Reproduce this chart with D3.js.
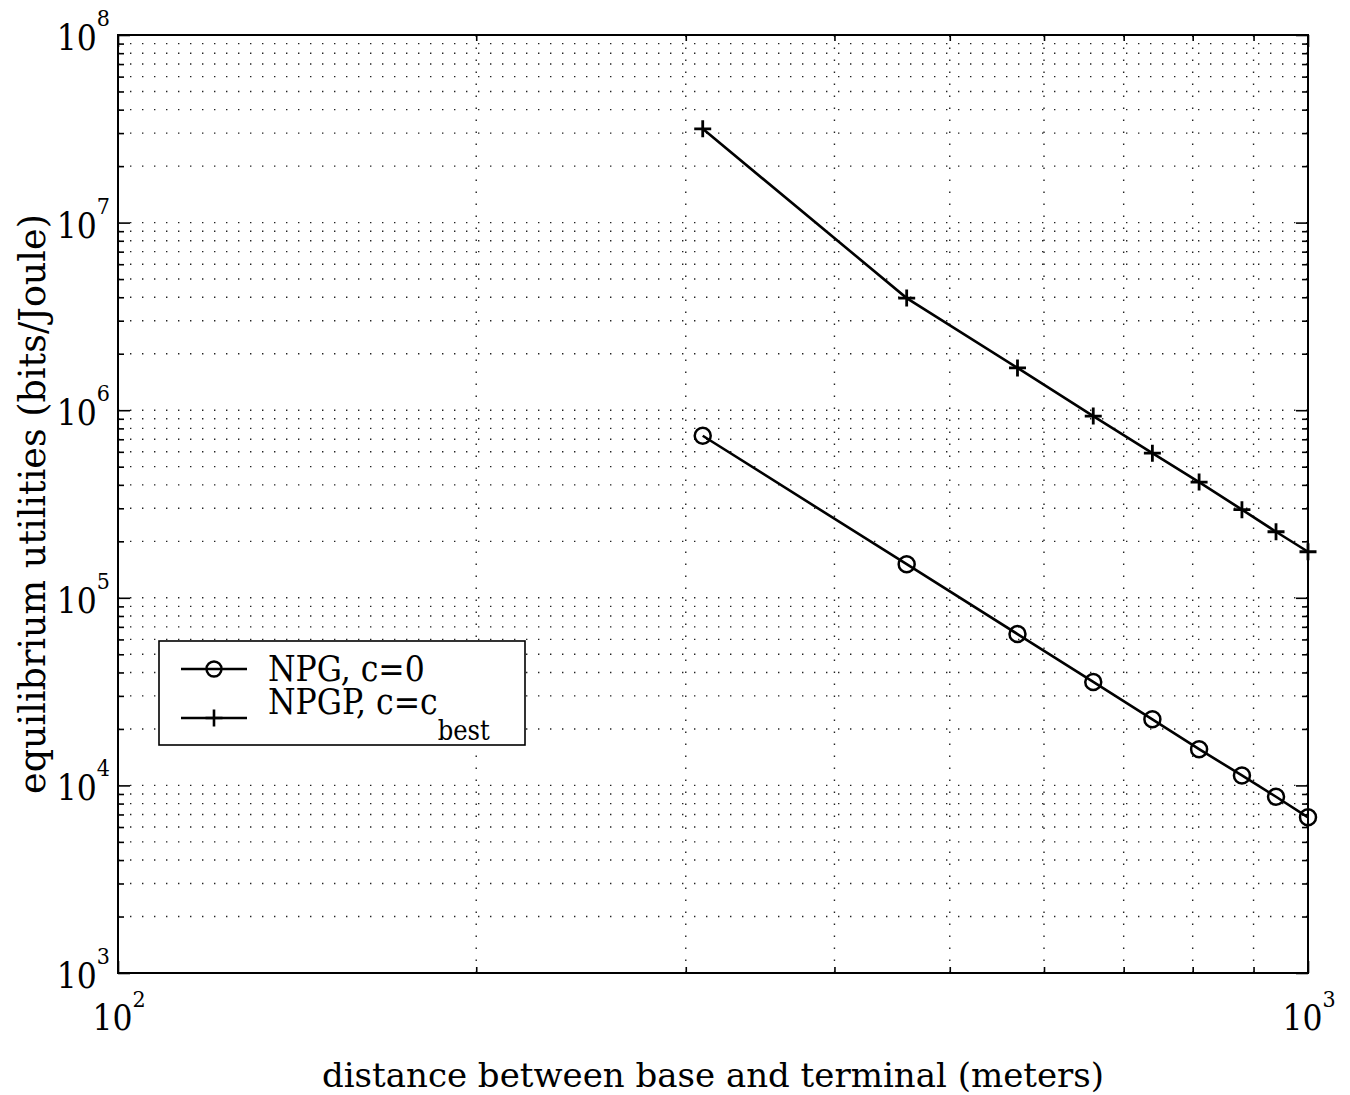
<!DOCTYPE html>
<html>
<head>
<meta charset="utf-8">
<script src="https://cdn.jsdelivr.net/npm/d3@7"></script>
<style>
  html, body { margin: 0; padding: 0; background: #fff; }
  svg text { font-family: "DejaVu Serif Condensed", "DejaVu Serif", serif; font-stretch: condensed; fill: #000; }
  svg text.title { font-family: "DejaVu Serif", serif; font-stretch: normal; }
</style>
</head>
<body>
<svg id="chart" width="1350" height="1095"></svg>
<script>
// ---- data ----
const distances = [310, 460, 570, 660, 740, 810, 880, 940, 1000];
const npgValues = [7.31e5, 1.51e5, 6.41e4, 3.56e4, 2.25e4, 1.56e4, 1.13e4, 8.7e3, 6.76e3];
const npgpValues = [3.16e7, 3.96e6, 1.68e6, 9.3e5, 5.9e5, 4.14e5, 2.95e5, 2.25e5, 1.76e5];
const seriesNames = ["NPG, c=0", "NPGP, c=c"];
const seriesSub = ["", "best"];
const xMajorExps = [2, 3];
const yMajorExps = [3, 4, 5, 6, 7, 8];
const xLabel = "distance between base and terminal (meters)";
const yLabel = "equilibrium utilities (bits/Joule)";

// ---- layout ----
const L = 118, R = 1308, T = 35, B = 973;
const svg = d3.select("#chart");
const x = d3.scaleLog().domain([100, 1000]).range([L, R]);
const y = d3.scaleLog().domain([1e3, 1e8]).range([B, T]);

// minor tick values
const xMinor = [];
for (let m = 2; m <= 9; m++) xMinor.push(m * 100);
const yMinor = [];
for (let e = 3; e < 8; e++) for (let m = 2; m <= 9; m++) yMinor.push(m * Math.pow(10, e));
const xMajor = xMajorExps.map(e => Math.pow(10, e));
const yMajor = yMajorExps.map(e => Math.pow(10, e));

// ---- grid (dotted) ----
const grid = svg.append("g").attr("stroke", "#222").attr("stroke-width", 1.4)
  .attr("stroke-dasharray", "1.4 10.6").attr("fill", "none");
grid.selectAll("line.gx").data(xMinor).join("line")
  .attr("class", "gx")
  .attr("x1", d => x(d)).attr("x2", d => x(d)).attr("y1", B).attr("y2", T);
grid.selectAll("line.gy").data(yMinor.concat(yMajor.slice(1, -1))).join("line")
  .attr("class", "gy")
  .attr("y1", d => y(d)).attr("y2", d => y(d)).attr("x1", L).attr("x2", R);

// ---- axes via d3 axis (inward ticks) ----
function tickLen(v) { return Math.abs(Math.log10(v) - Math.round(Math.log10(v))) < 1e-9 ? 12 : 6; }
const xt = xMajor.concat(xMinor), yt = yMajor.concat(yMinor);
const gens = {
  b: d3.axisBottom(x), t: d3.axisTop(x), l: d3.axisLeft(y), r: d3.axisRight(y)
};
function drawAxis(gen, transform, vals, sign, horiz) {
  const g = svg.append("g").attr("transform", transform)
    .call(gen.tickValues(vals).tickFormat("").tickSizeOuter(0).tickSizeInner(0));
  g.select(".domain").remove();
  g.selectAll(".tick line").each(function(d) {
    const len = tickLen(d) * sign;
    const sel = d3.select(this).attr("stroke", "#000").attr("stroke-width", 1.6);
    if (horiz) sel.attr("y2", len); else sel.attr("x2", len);
  });
  return g;
}
drawAxis(gens.b, `translate(0,${B})`, xt, -1, true);
drawAxis(gens.t, `translate(0,${T})`, xt, 1, true);
drawAxis(gens.l, `translate(${L},0)`, yt, 1, false);
drawAxis(gens.r, `translate(${R},0)`, yt, -1, false);

svg.append("rect").attr("x", L).attr("y", T).attr("width", R - L).attr("height", B - T)
  .attr("fill", "none").attr("stroke", "#000").attr("stroke-width", 2);

// ---- tick labels ----
const yl = svg.append("g");
yMajorExps.forEach(e => {
  const t = yl.append("text").attr("x", 110).attr("y", y(Math.pow(10, e)) + 15)
    .attr("text-anchor", "end").attr("font-size", 35);
  t.append("tspan").text("10");
  t.append("tspan").attr("dy", -24).attr("font-size", 23).text(String(e));
});
const xl = svg.append("g");
xMajorExps.forEach(e => {
  const t = xl.append("text").attr("x", x(Math.pow(10, e)) + 1).attr("y", 1030)
    .attr("text-anchor", "middle").attr("font-size", 35);
  t.append("tspan").text("10");
  t.append("tspan").attr("dy", -23).attr("font-size", 23).text(String(e));
});

// ---- axis titles ----
svg.append("text").attr("class", "title").attr("x", (L + R) / 2).attr("y", 1087)
  .attr("text-anchor", "middle").attr("font-size", 34).text(xLabel);
svg.append("text").attr("class", "title")
  .attr("transform", `translate(45,${(T + B) / 2}) rotate(-90)`)
  .attr("text-anchor", "middle").attr("font-size", 36.5).text(yLabel);

// ---- series ----
const line = d3.line().x(d => x(d[0])).y(d => y(d[1]));
const npg = distances.map((d, i) => [d, npgValues[i]]);
const npgp = distances.map((d, i) => [d, npgpValues[i]]);
const plot = svg.append("g");
plot.append("path").datum(npgp).attr("d", line).attr("fill", "none")
  .attr("stroke", "#000").attr("stroke-width", 2.6);
plot.append("path").datum(npg).attr("d", line).attr("fill", "none")
  .attr("stroke", "#000").attr("stroke-width", 2.6);

const plusPath = "M-8.5,0H8.5M0,-8.5V8.5";
plot.selectAll("path.plus").data(npgp).join("path").attr("class", "plus")
  .attr("transform", d => `translate(${x(d[0])},${y(d[1])})`)
  .attr("d", plusPath).attr("stroke", "#000").attr("stroke-width", 2.8).attr("fill", "none");
plot.selectAll("circle.circ").data(npg).join("circle").attr("class", "circ")
  .attr("cx", d => x(d[0])).attr("cy", d => y(d[1])).attr("r", 8)
  .attr("stroke", "#000").attr("stroke-width", 2.5).attr("fill", "none");

// ---- legend ----
const lg = svg.append("g");
lg.append("rect").attr("x", 159).attr("y", 641).attr("width", 366).attr("height", 104)
  .attr("fill", "#fff").attr("stroke", "#000").attr("stroke-width", 1.6);
const rows = [669, 718];
rows.forEach((ry, i) => {
  lg.append("line").attr("x1", 181).attr("x2", 247).attr("y1", ry).attr("y2", ry)
    .attr("stroke", "#000").attr("stroke-width", 2.6);
  if (i === 0) {
    lg.append("circle").attr("cx", 214).attr("cy", ry).attr("r", 7.5)
      .attr("fill", "none").attr("stroke", "#000").attr("stroke-width", 2.4);
  } else {
    lg.append("path").attr("transform", `translate(214,${ry})`).attr("d", plusPath)
      .attr("stroke", "#000").attr("stroke-width", 2.6);
  }
});
lg.append("text").attr("x", 268).attr("y", 681).attr("font-size", 35).text(seriesNames[0]);
const t2 = lg.append("text").attr("x", 268).attr("y", 714).attr("font-size", 35);
t2.append("tspan").text(seriesNames[1]);
t2.append("tspan").attr("dy", 26).attr("font-size", 27).text(seriesSub[1]);
</script>
</body>
</html>
